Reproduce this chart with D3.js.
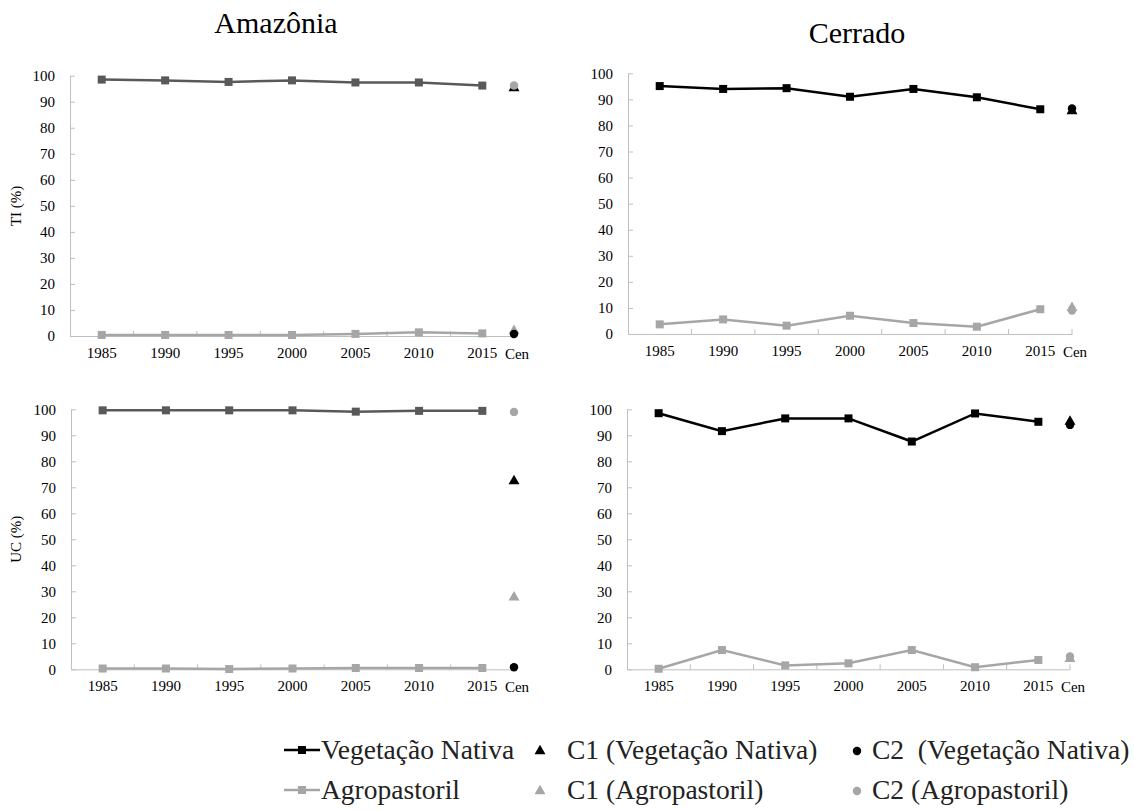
<!DOCTYPE html>
<html>
<head>
<meta charset="utf-8">
<script src="https://cdn.jsdelivr.net/npm/d3@7"></script>
<style>
body{margin:0;background:#fff;}
svg{display:block;}
svg text{font-family:"Liberation Serif","Times New Roman",serif;}
</style>
</head>
<body>
<svg id="chart" width="1134" height="811"></svg>
<script>
// data
var years = ["1985","1990","1995","2000","2005","2010","2015"];
var yTicks = [0,10,20,30,40,50,60,70,80,90,100];
var cenLabel = "Cen";

var amzTI_veg  = [98.5, 98.2, 97.6, 98.2, 97.4, 97.4, 96.2];
var amzTI_agro = [0.4, 0.4, 0.4, 0.4, 0.8, 1.4, 1.0];
var amzTI_cen  = [95.2, 0.8, 2.0, 96.2];   // C1 veg, C2 veg, C1 agro, C2 agro

var cerTI_veg  = [95.1, 94.0, 94.3, 91.0, 94.0, 90.8, 86.2];
var cerTI_agro = [3.7, 5.6, 3.2, 7.0, 4.2, 2.8, 9.5];
var cerTI_cen  = [85.5, 86.5, 10.0, 9.0];

var amzUC_veg  = [99.6, 99.6, 99.6, 99.6, 99.1, 99.4, 99.4];
var amzUC_agro = [0.3, 0.3, 0.1, 0.3, 0.5, 0.5, 0.5];
var amzUC_cen  = [72.4, 0.8, 27.7, 99.0];

var cerUC_veg  = [98.5, 91.6, 96.5, 96.5, 87.6, 98.4, 95.2];
var cerUC_agro = [0.2, 7.4, 1.5, 2.3, 7.4, 0.8, 3.6];
var cerUC_cen  = [95.3, 94.0, 4.0, 4.9];

var legendLines = ["Vegetação Nativa", "Agropastoril"];
var legendC1 = ["C1 (Vegetação Nativa)", "C1 (Agropastoril)"];
var legendC2 = ["C2  (Vegetação Nativa)", "C2 (Agropastoril)"];

var gray = "#a6a6a6", axisColor = "#bfbfbf";
var serif = '"Liberation Serif","Times New Roman",serif';

var panels = [
    {veg: amzTI_veg, agro: amzTI_agro, cen: amzTI_cen, vegColor: "#595959", x0: 70,  x1: 514,  yTop: 75.7,  yBot: 336,   ylabel: "TI (%)"},
    {veg: cerTI_veg, agro: cerTI_agro, cen: cerTI_cen, vegColor: "#000",    x0: 628, x1: 1072, yTop: 73.3,  yBot: 334,   ylabel: null},
    {veg: amzUC_veg, agro: amzUC_agro, cen: amzUC_cen, vegColor: "#595959", x0: 71,  x1: 514,  yTop: 409.3, yBot: 669.3, ylabel: "UC (%)"},
    {veg: cerUC_veg, agro: cerUC_agro, cen: cerUC_cen, vegColor: "#000",    x0: 627, x1: 1070, yTop: 409.3, yBot: 669.3, ylabel: null}
];

var svg = d3.select("#chart");

// Titles
svg.append("text").text("Amazônia")
    .attr("x", 276).attr("y", 33)
    .attr("font-size", 30).attr("text-anchor", "middle");
svg.append("text").text("Cerrado")
    .attr("x", 857).attr("y", 43)
    .attr("font-size", 30).attr("text-anchor", "middle");

var tri = d3.symbol().type(d3.symbolTriangle).size(52);
var circ = d3.symbol().type(d3.symbolCircle).size(56);

panels.forEach(function(p){
    var g = svg.append("g");
    var x = d3.scaleBand().domain(years).range([p.x0, p.x1]);
    var y = d3.scaleLinear().domain([0, 100]).range([p.yBot, p.yTop]);

    // y axis
    var ya = g.append("g")
        .attr("transform", "translate(" + p.x0 + ",0)")
        .call(d3.axisLeft(y).tickValues(yTicks).tickSize(-5).tickSizeOuter(0).tickPadding(15))
        .attr("font-family", serif).attr("font-size", 15);
    ya.select(".domain").attr("stroke", axisColor);
    ya.selectAll(".tick line").attr("stroke", axisColor);
    ya.selectAll("text").attr("fill", "#000");

    // x axis
    var xa = g.append("g")
        .attr("transform", "translate(0," + p.yBot + ")")
        .call(d3.axisBottom(x).tickSize(0).tickPadding(11))
        .attr("font-family", serif).attr("font-size", 15);
    xa.select(".domain").attr("stroke", axisColor);
    xa.selectAll("text").attr("fill", "#000");
    // ticks at band boundaries
    xa.selectAll("line.bnd")
        .data(years)
        .enter().append("line")
        .attr("class", "bnd")
        .attr("x1", function(d){ return x(d) + x.bandwidth(); })
        .attr("x2", function(d){ return x(d) + x.bandwidth(); })
        .attr("y1", 0).attr("y2", -5)
        .attr("stroke", axisColor);
    xa.append("text").text(cenLabel)
        .attr("x", p.x1 + 3).attr("y", 23)
        .attr("text-anchor", "middle").attr("fill", "#000");

    if(p.ylabel){
        g.append("text").text(p.ylabel)
            .attr("transform", "translate(21," + (p.yBot + p.yTop) / 2 + ") rotate(-90)")
            .attr("font-size", 15).attr("text-anchor", "middle");
    }

    var line = d3.line()
        .x(function(d, i){ return x(years[i]) + x.bandwidth() / 2; })
        .y(function(d){ return y(d); });

    [[p.agro, gray], [p.veg, p.vegColor]].forEach(function(s){
        g.append("path").datum(s[0])
            .attr("d", line)
            .attr("fill", "none")
            .attr("stroke", s[1])
            .attr("stroke-width", 2.5);
        g.selectAll(null).data(s[0]).enter().append("rect")
            .attr("x", function(d, i){ return x(years[i]) + x.bandwidth() / 2 - 4; })
            .attr("y", function(d){ return y(d) - 4; })
            .attr("width", 8).attr("height", 8)
            .attr("fill", s[1]);
    });

    // scenario markers: triangles first, circles on top
    var cx = p.x1;
    g.append("path").attr("d", tri)
        .attr("transform", "translate(" + cx + "," + y(p.cen[0]) + ")").attr("fill", "#000");
    g.append("path").attr("d", tri)
        .attr("transform", "translate(" + cx + "," + y(p.cen[2]) + ")").attr("fill", gray);
    g.append("path").attr("d", circ)
        .attr("transform", "translate(" + cx + "," + y(p.cen[1]) + ")").attr("fill", "#000");
    g.append("path").attr("d", circ)
        .attr("transform", "translate(" + cx + "," + y(p.cen[3]) + ")").attr("fill", gray);
});

// Legend
var lg = svg.append("g").attr("font-size", 27.5);
var rowY = [750, 790];
var lineColors = ["#000", gray];
rowY.forEach(function(ry, i){
    lg.append("line")
        .attr("x1", 284).attr("x2", 320).attr("y1", ry).attr("y2", ry)
        .attr("stroke", lineColors[i]).attr("stroke-width", 2.5);
    lg.append("rect")
        .attr("x", 298).attr("y", ry - 4).attr("width", 8).attr("height", 8)
        .attr("fill", lineColors[i]);
    lg.append("text").text(legendLines[i])
        .attr("x", 321).attr("y", ry + 9).attr("fill", "#222");

    lg.append("path").attr("d", tri)
        .attr("transform", "translate(540," + (ry + 1) + ")").attr("fill", lineColors[i]);
    lg.append("text").text(legendC1[i])
        .attr("x", 567).attr("y", ry + 9).attr("fill", "#222");

    lg.append("path").attr("d", circ)
        .attr("transform", "translate(857," + (ry + 1) + ")").attr("fill", lineColors[i]);
    lg.append("text").text(legendC2[i])
        .attr("x", 872).attr("y", ry + 9).attr("fill", "#222")
        .style("white-space", "pre");
});
</script>
</body>
</html>
